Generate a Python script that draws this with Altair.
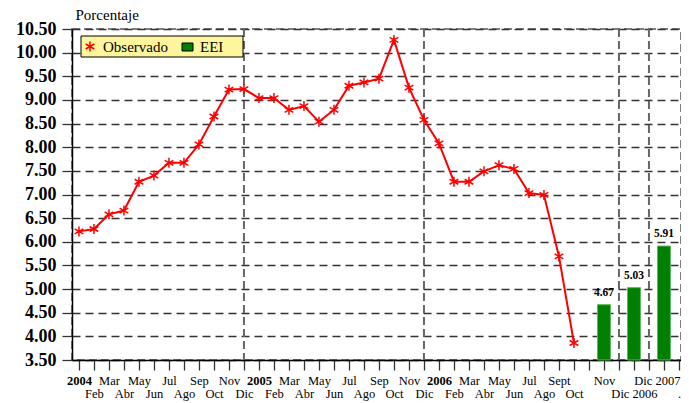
import json
import altair as alt
import pandas as pd

# ---------------- data ----------------
obs_pos = list(range(34))
observado = [6.22, 6.27, 6.58, 6.66, 7.27, 7.40, 7.67, 7.67, 8.06, 8.65, 9.22, 9.23,
             9.04, 9.04, 8.79, 8.87, 8.54, 8.79, 9.30, 9.37, 9.45, 10.27, 9.26, 8.58,
             8.08, 7.27, 7.27, 7.49, 7.62, 7.54, 7.03, 6.99, 5.69, 3.86]
eei_pos = [35, 37, 39]
eei_val = [4.67, 5.03, 5.91]
eei_txt = ["4.67", "5.03", "5.91"]

x_labels = ["2004", "Feb", "Mar", "Abr", "May", "Jun", "Jul", "Ago", "Sep", "Oct", "Nov", "Dic",
            "2005", "Feb", "Mar", "Abr", "May", "Jun", "Jul", "Ago", "Sep", "Oct", "Nov", "Dic",
            "2006", "Feb", "Mar", "Abr", "May", "Jun", "Jul", "Ago", "Sept", "Oct",
            "", "Nov", "", "Dic 2006", "", "Dic 2007", "."]
label_rows = [0, 1, 0, 1, 0, 1, 0, 1, 0, 1, 0, 1,
              0, 1, 0, 1, 0, 1, 0, 1, 0, 1, 0, 1,
              0, 1, 0, 1, 0, 1, 0, 1, 0, 1,
              0, 0, 1, 1, 1, 0, 1]
bold_pos = [0, 12, 24]
sep_pos = [11, 23, 36, 38]
y_ticks = [3.5, 4.0, 4.5, 5.0, 5.5, 6.0, 6.5, 7.0, 7.5, 8.0, 8.5, 9.0, 9.5, 10.0, 10.5]

SERIF = "'Liberation Serif', 'Times New Roman', serif"
ASTERISK = "M0,-1L0,1M-0.87,-0.5L0.87,0.5M-0.87,0.5L0.87,-0.5"

upper = [l if r == 0 else "" for l, r in zip(x_labels, label_rows)]
lower = [l if r == 1 else "" for l, r in zip(x_labels, label_rows)]
label_expr = f"[{json.dumps(upper)}[datum.value], {json.dumps(lower)}[datum.value]]"
bold_test = " || ".join(f"datum.value == {p}" for p in bold_pos)
last_lab = len(x_labels) - 2

x_scale = alt.Scale(domain=[-0.464, 40.136], nice=False, zero=False, padding=0)
y_scale = alt.Scale(domain=[3.5, 10.5], nice=False, zero=False, padding=0)

x_axis = alt.Axis(values=list(range(len(x_labels))), labelExpr=label_expr, title=None,
                  grid=False, tickSize=10, tickColor="#333", tickWidth=1.3,
                  domainColor="black", domainWidth=1.5,
                  labelFont=SERIF, labelFontSize=12.5, labelColor="black",
                  labelFontWeight={"condition": {"test": bold_test, "value": "bold"}, "value": "normal"},
                  labelAlign={"condition": {"test": f"datum.value == {last_lab}", "value": "right"}, "value": "center"},
                  labelOffset={"condition": {"test": f"datum.value == {last_lab}", "value": 16}, "value": 0},
                  labelBaseline="top", labelLineHeight=13.5, labelPadding=4,
                  labelOverlap=False, labelBound=False, labelFlush=False)
y_axis = alt.Axis(values=y_ticks, format=".2f", title="Porcentaje", titleAngle=0,
                  titleAlign="left", titleBaseline="middle", titleX=3, titleY=-15,
                  titleFont=SERIF, titleFontSize=15, titleFontWeight="normal", titleColor="black",
                  labelFont=SERIF, labelFontSize=18, labelFontWeight="bold", labelColor="black",
                  labelPadding=6, tickSize=10, tickColor="#333", tickWidth=1.3,
                  domainColor="black", domainWidth=1.5,
                  grid=True, gridDash=[8, 5], gridColor="#333", gridWidth=1.3)

X = alt.X("x:Q", scale=x_scale, axis=x_axis)
Y = alt.Y("y:Q", scale=y_scale, axis=y_axis)

obs_df = pd.DataFrame({"x": obs_pos, "y": observado})
eei_df = pd.DataFrame({"x": eei_pos, "y": eei_val, "t": eei_txt})
sep_df = pd.DataFrame({"x": sep_pos})

seps = alt.Chart(sep_df).mark_rule(color="#666", strokeDash=[8, 4], strokeWidth=2).encode(x=X)
line = alt.Chart(obs_df).mark_line(color="red", strokeWidth=2).encode(x=X, y=Y)
pts = alt.Chart(obs_df).mark_point(shape=ASTERISK, size=100, filled=False, color="red",
                                   strokeWidth=1.5, opacity=1).encode(x=X, y=Y)
bars = alt.Chart(eei_df).mark_bar(color="#008000", size=13, stroke="#5cb85c",
                                  strokeWidth=1).encode(x=X, y=Y, y2=alt.datum(3.5))
btxt = alt.Chart(eei_df).mark_text(dy=-12, font=SERIF, fontWeight="bold", fontSize=11.5,
                                   color="black", baseline="middle").encode(x=X, y=Y, text="t:N")

one = alt.Data(values=[{}])
leg_box = alt.Chart(one).mark_rect(fill="#FFF59D", stroke="black", strokeWidth=1).encode(
    x=alt.value(9), x2=alt.value(171), y=alt.value(7), y2=alt.value(28))
leg_sym = alt.Chart(one).mark_point(shape=ASTERISK, size=100, filled=False, color="red",
                                    strokeWidth=1.5, opacity=1).encode(x=alt.value(18), y=alt.value(17.5))
leg_t1 = alt.Chart(one).mark_text(text="Observado", align="left", baseline="middle", font=SERIF,
                                  fontSize=15, color="black").encode(x=alt.value(31), y=alt.value(18))
leg_sq = alt.Chart(one).mark_rect(fill="#008000", stroke="black", strokeWidth=1).encode(
    x=alt.value(110), x2=alt.value(121), y=alt.value(14), y2=alt.value(22))
leg_t2 = alt.Chart(one).mark_text(text="EEI", align="left", baseline="middle", font=SERIF,
                                  fontSize=15, color="black").encode(x=alt.value(128), y=alt.value(18))

chart = alt.layer(seps, line, pts, bars, btxt, leg_box, leg_sym, leg_t1, leg_sq, leg_t2).properties(
    width=609, height=331,
    autosize=alt.AutoSizeParams(type="none"),
    padding={"left": 64, "top": 21, "right": 0, "bottom": 50},
    background="white",
).configure_view(stroke="#555", strokeDash=[8, 4], strokeWidth=1.5)

chart.save("out.html", embed_options={"renderer": "svg", "actions": False})
